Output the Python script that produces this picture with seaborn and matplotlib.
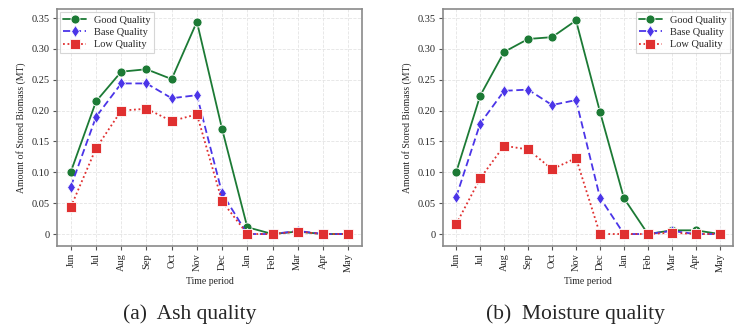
import numpy as np
import pandas as pd
import matplotlib
matplotlib.use("Agg")
import matplotlib.pyplot as plt
import seaborn as sns

months = ["Jun", "Jul", "Aug", "Sep", "Oct", "Nov", "Dec", "Jan", "Feb", "Mar", "Apr", "May"]
series_names = ["Good Quality", "Base Quality", "Low Quality"]

ash_good = [0.101, 0.215, 0.263, 0.267, 0.251, 0.344, 0.170, 0.011, 0.0, 0.004, 0.0, 0.0]
ash_base = [0.077, 0.190, 0.244, 0.244, 0.220, 0.225, 0.066, 0.0, 0.0, 0.005, 0.0, 0.0]
ash_low = [0.044, 0.139, 0.200, 0.203, 0.183, 0.194, 0.053, 0.0, 0.0, 0.004, 0.0, 0.0]

moist_good = [0.100, 0.224, 0.295, 0.316, 0.319, 0.346, 0.198, 0.058, 0.0, 0.006, 0.006, 0.0]
moist_base = [0.060, 0.179, 0.232, 0.234, 0.209, 0.217, 0.059, 0.0, 0.0, 0.005, 0.0, 0.0]
moist_low = [0.016, 0.090, 0.143, 0.137, 0.105, 0.123, 0.0, 0.0, 0.0, 0.002, 0.0, 0.0]

captions = ["(a)  Ash quality", "(b)  Moisture quality"]
yticks = [0, 0.05, 0.10, 0.15, 0.20, 0.25, 0.30, 0.35]
ytick_labels = ["0", "0.05", "0.10", "0.15", "0.20", "0.25", "0.30", "0.35"]

sns.set_theme(style="whitegrid")
plt.rcParams["font.family"] = ["Liberation Serif", "DejaVu Serif"]

colors = {"Good Quality": "#1c7a35", "Base Quality": "#4b35e8", "Low Quality": "#e03030"}
markers = {"Good Quality": "o", "Base Quality": "d", "Low Quality": "s"}
dashes = {"Good Quality": "", "Base Quality": (4, 2), "Low Quality": (1, 1.5)}


def make_df(good, base, low):
    rows = []
    for name, vals in zip(series_names, [good, base, low]):
        for i, (m, v) in enumerate(zip(months, vals)):
            rows.append({"idx": i, "month": m, "value": v, "series": name})
    return pd.DataFrame(rows)


dfs = [make_df(ash_good, ash_base, ash_low), make_df(moist_good, moist_base, moist_low)]

fig = plt.figure(figsize=(7.37, 3.29), dpi=100)
ax_pos = [[57 / 737, 1 - 246 / 329, 305 / 737, 237 / 329],
          [443 / 737, 1 - 246 / 329, 290 / 737, 237 / 329]]
legend_locs = ["upper left", "upper right"]
caption_x = [190 / 737, 575 / 737]

for k in range(2):
    ax = fig.add_axes(ax_pos[k])
    sns.lineplot(data=dfs[k], x="idx", y="value", hue="series", style="series",
                 palette=colors, markers=markers, dashes=dashes, ax=ax,
                 linewidth=1.3, markersize=6.5, markeredgewidth=0.6,
                 hue_order=series_names, style_order=series_names)
    ax.set_xlim(-0.55, 11.55)
    ax.set_ylim(-0.0194, 0.3646)
    ax.set_xticks(range(len(months)))
    ax.set_xticklabels(months, rotation=90, fontsize=7.5)
    ax.set_yticks(yticks)
    ax.set_yticklabels(ytick_labels, fontsize=7.5)
    ax.set_xlabel("Time period", fontsize=7)
    ax.set_ylabel("Amount of Stored Biomass (MT)", fontsize=7)
    ax.grid(True, color="#e4e4e4", linestyle="--", linewidth=0.6)
    ax.set_facecolor("white")
    for sp in ax.spines.values():
        sp.set_color("#8a8a8a")
        sp.set_linewidth(1.2)
    ax.tick_params(axis="both", which="major", length=3, width=0.8, color="#555555",
                   pad=2, direction="out", bottom=True, left=True)
    leg = ax.legend(loc=legend_locs[k], fontsize=7.5, frameon=True, fancybox=False,
                    borderpad=0.3, labelspacing=0.3, handlelength=2.2,
                    borderaxespad=0.3)
    leg.get_frame().set_edgecolor("#cccccc")
    leg.get_frame().set_linewidth(0.8)
    fig.text(caption_x[k], 1 - 314 / 329, captions[k], ha="center", va="center",
             fontsize=15.5, family=["Liberation Serif", "DejaVu Serif"])

fig.savefig("out.png", dpi=100)
